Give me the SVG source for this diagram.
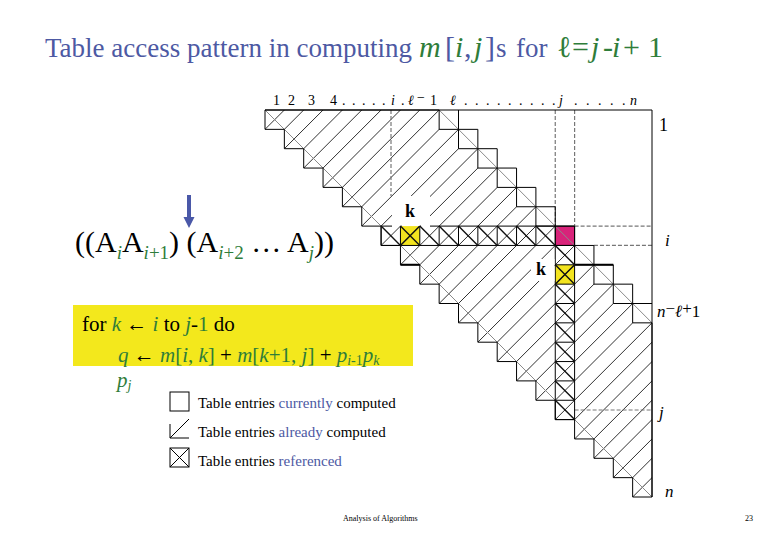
<svg xmlns="http://www.w3.org/2000/svg" width="780" height="540" viewBox="0 0 780 540">
<style>
text{font-family:"Liberation Serif","DejaVu Serif",serif;fill:#000}
.bl{fill:#4d59a3}
.gr{fill:#2f7d3a}
.it{font-style:italic}
.ln{fill:none;stroke:#000;stroke-width:1}
.x{fill:none;stroke:#111;stroke-width:1.4}
.h{fill:none;stroke:#1a1a1a;stroke-width:0.9}
.gy{fill:none;stroke:#8a8a8a;stroke-width:1}
.ds{fill:none;stroke:#777;stroke-width:1.2;stroke-dasharray:4 2}
</style>
<defs>
<clipPath id="hatchClip">
<path d="M265,110 H439.15 V129.35 H458.5 V148.7 H477.85 V168.05 H497.2 V187.4 H516.55 V206.75 H535.9 V226.1 H555.25 V245.45 H574.6 V264.8 H593.95 V284.15 H613.3 V303.5 H632.65 V322.85 H652 V497 H632.65 V477.65 H613.3 V458.3 H593.95 V438.95 H574.6 V419.6 H555.25 V400.25 H535.9 V380.9 H516.55 V361.55 H497.2 V342.2 H477.85 V322.85 H458.5 V303.5 H439.15 V284.15 H419.8 V264.8 H400.45 V245.45 H381.1 V226.1 H361.75 V206.75 H342.4 V187.4 H323.05 V168.05 H303.7 V148.7 H284.35 V129.35 H265 Z"/>
</clipPath>
</defs>
<rect width="780" height="540" fill="#fff"/>

<g id="title">
<text y="57" font-size="27" class="bl"><tspan x="45">Table access pattern in computing</tspan><tspan x="419" font-size="30" class="gr it">m</tspan><tspan x="445" font-size="30">[</tspan><tspan x="455" font-size="30" class="gr it">i</tspan><tspan x="464" font-size="30">,</tspan><tspan x="474" font-size="30" class="gr it">j</tspan><tspan x="485" font-size="30">]</tspan><tspan x="496">s</tspan><tspan x="516">for</tspan><tspan x="557" font-size="30" class="gr">ℓ</tspan><tspan x="572" font-size="30" class="gr">=</tspan><tspan x="591" font-size="30" class="gr it">j</tspan><tspan x="603" font-size="30" class="gr">-</tspan><tspan x="612" font-size="30" class="gr it">i</tspan><tspan x="623" font-size="30" class="gr">+</tspan><tspan x="648" font-size="30" class="gr">1</tspan></text>
</g>

<g id="top-axis" font-size="14">
<text y="105"><tspan x="273">1</tspan><tspan x="288">2</tspan><tspan x="308">3</tspan><tspan x="330">4</tspan><tspan x="342 352 362 372 382">.....</tspan><tspan x="391" class="it">i</tspan><tspan x="401">.</tspan><tspan x="408" class="it">ℓ</tspan><tspan x="417" dy="-3">−</tspan><tspan x="430" dy="3">1</tspan><tspan x="450" class="it">ℓ</tspan><tspan x="464 475 486 497 508 519 530 541 552">.........</tspan><tspan x="559" class="it">j</tspan><tspan x="574 586 598 610 622">.....</tspan><tspan x="630" class="it">n</tspan></text>
</g>

<g id="right-axis">
<text x="659" y="131" font-size="18">1</text>
<text x="665" y="246" font-size="17" class="it">i</text>
<text x="657" y="317" font-size="17"><tspan class="it">n</tspan><tspan dy="-3">−</tspan><tspan class="it" dy="3">ℓ</tspan><tspan dy="-3">+</tspan><tspan dy="3">1</tspan></text>
<text x="659" y="418" font-size="17" class="it">j</text>
<text x="665" y="497" font-size="17" class="it">n</text>
</g>

<g id="table">
<rect x="400.45" y="226.1" width="19.35" height="19.35" fill="#f3e41f"/>
<rect x="555.25" y="264.8" width="19.35" height="19.35" fill="#f3e41f"/>
<rect x="555.25" y="226.1" width="19.35" height="19.35" fill="#d8237a"/>
<g clip-path="url(#hatchClip)">
<path class="h" d="M294.35,100L-115.65,510M313.7,100L-96.3,510M333.05,100L-76.95,510M352.4,100L-57.6,510M371.75,100L-38.25,510M391.1,100L-18.9,510M410.45,100L0.45,510M429.8,100L19.8,510M449.15,100L39.15,510M468.5,100L58.5,510M487.85,100L77.85,510M507.2,100L97.2,510M526.55,100L116.55,510M545.9,100L135.9,510M565.25,100L155.25,510M584.6,100L174.6,510M603.95,100L193.95,510M623.3,100L213.3,510M642.65,100L232.65,510M662,100L252,510M681.35,100L271.35,510M700.7,100L290.7,510M720.05,100L310.05,510M739.4,100L329.4,510M758.75,100L348.75,510M778.1,100L368.1,510M797.45,100L387.45,510M816.8,100L406.8,510M836.15,100L426.15,510M855.5,100L445.5,510M874.85,100L464.85,510M894.2,100L484.2,510M913.55,100L503.55,510M932.9,100L522.9,510M952.25,100L542.25,510M971.6,100L561.6,510M990.95,100L580.95,510M1010.3,100L600.3,510M1029.65,100L619.65,510"/>
</g>
<path class="gy" d="M265,110 L652,497 M439.15,110 L652,322.85"/>
<path class="ds" d="M391,110 V196 M555.25,110 V226 M574.6,110 V226 M574.6,226.1 H652 M593.95,245.45 H652 M574.6,410 H652"/>
<path class="ln" d="M265,110 H652 V497"/>
<path class="ln" d="M265,110 H439.15 V129.35 H458.5 V148.7 H477.85 V168.05 H497.2 V187.4 H516.55 V206.75 H535.9 V226.1 H555.25 V245.45 H574.6 V264.8 H593.95 V284.15 H613.3 V303.5 H632.65 V322.85 H652 V497 H632.65 V477.65 H613.3 V458.3 H593.95 V438.95 H574.6 V419.6 H555.25 V400.25 H535.9 V380.9 H516.55 V361.55 H497.2 V342.2 H477.85 V322.85 H458.5 V303.5 H439.15 V284.15 H419.8 V264.8 H400.45 V245.45 H381.1 V226.1 H361.75 V206.75 H342.4 V187.4 H323.05 V168.05 H303.7 V148.7 H284.35 V129.35 H265 Z"/>
<path class="ln" d="M458.5,110 V129.35 H477.85 V148.7 H497.2 V168.05 H516.55 V187.4 H535.9 V206.75 H555.25 V226.1 H574.6 V245.45 H593.95 V264.8 H613.3 V284.15 H632.65 V303.5 H652"/>
<path fill="none" stroke="#000" stroke-width="2" d="M400.45,264.8 H419.8 M574.6,264.8 H613.3"/>
<path class="ln" d="M381.1,226.1 H392 M430,226.1 H555.25 M381.1,245.45 H555.25 M381.1,226.1 V245.45 M400.45,226.1 V245.45 M419.8,226.1 V245.45 M439.15,226.1 V245.45 M458.5,226.1 V245.45 M477.85,226.1 V245.45 M497.2,226.1 V245.45 M516.55,226.1 V245.45 M535.9,226.1 V245.45"/>
<path class="x" d="M381.1,226.1L400.45,245.45M400.45,226.1L419.8,245.45M419.8,226.1L439.15,245.45M439.15,226.1L458.5,245.45M458.5,226.1L477.85,245.45M477.85,226.1L497.2,245.45M497.2,226.1L516.55,245.45M516.55,226.1L535.9,245.45M535.9,226.1L555.25,245.45"/>
<path class="ln" d="M555.25,226.1 H574.6 V419.6 H555.25 V226.1 M555.25,245.45 H574.6 M555.25,264.8 H574.6 M555.25,284.15 H574.6 M555.25,303.5 H574.6 M555.25,322.85 H574.6 M555.25,342.2 H574.6 M555.25,361.55 H574.6 M555.25,380.9 H574.6 M555.25,400.25 H574.6"/>
<path class="x" d="M555.25,245.45L574.6,264.8M555.25,264.8L574.6,284.15M555.25,284.15L574.6,303.5M555.25,303.5L574.6,322.85M555.25,322.85L574.6,342.2M555.25,342.2L574.6,361.55M555.25,361.55L574.6,380.9M555.25,380.9L574.6,400.25M555.25,400.25L574.6,419.6"/>
<path class="x" d="M400.45,245.45L419.8,226.1M555.25,284.15L574.6,264.8"/>
<rect x="392" y="196" width="38" height="29.4" fill="#fff"/>
<text x="405" y="217" font-size="18" font-weight="bold">k</text>
<rect x="531" y="259" width="23.5" height="22" fill="#fff"/>
<text x="536" y="275" font-size="18" font-weight="bold">k</text>
</g>

<g id="expression">
<text x="75" y="252" font-size="30">((A<tspan dy="7" font-size="19" class="gr it">i</tspan><tspan dy="-7">A</tspan><tspan dy="7" font-size="19" class="gr"><tspan class="it">i</tspan>+1</tspan><tspan dy="-7">) (A</tspan><tspan dy="7" font-size="19" class="gr"><tspan class="it">i</tspan>+2</tspan><tspan dy="-7"> … A</tspan><tspan dy="7" font-size="19" class="gr it">j</tspan><tspan dy="-7">))</tspan></text>
<path fill="#4a58a8" d="M187,195 H191 V217 H194.5 L189,228 L183.5,217 H187 Z"/>
</g>

<g id="code">
<rect x="73" y="305" width="340" height="61" fill="#f3e81c"/>
<text x="82" y="331" font-size="21">for <tspan class="gr it">k</tspan> ← <tspan class="gr it">i</tspan> to <tspan class="gr it">j</tspan>-<tspan class="gr">1</tspan> do</text>
<text x="118" y="362" font-size="21" class="gr"><tspan class="it">q</tspan> <tspan fill="#000">←</tspan> <tspan class="it">m</tspan>[<tspan class="it">i</tspan>, <tspan class="it">k</tspan>] <tspan fill="#000">+</tspan> <tspan class="it">m</tspan>[<tspan class="it">k</tspan>+1, <tspan class="it">j</tspan>] <tspan fill="#000">+</tspan> <tspan class="it">p</tspan><tspan font-size="14" dy="3"><tspan class="it">i</tspan>-1</tspan><tspan class="it" dy="-3">p</tspan><tspan font-size="14" dy="3" class="it">k</tspan></text>
<text x="117" y="387" font-size="21" class="gr"><tspan class="it">p</tspan><tspan font-size="14" dy="3" class="it">j</tspan></text>
</g>

<g id="legend" font-size="15">
<rect x="170" y="392" width="19" height="19" class="ln"/>
<text x="198" y="408">Table entries <tspan class="bl">currently</tspan> computed</text>
<path class="ln" d="M170,424 V438 H189 M170,438 L189,419"/>
<text x="198" y="437">Table entries <tspan class="bl">already</tspan> computed</text>
<rect x="170" y="448" width="19" height="19" class="ln"/>
<path class="ln" d="M170,448 L189,467 M189,448 L170,467"/>
<text x="198" y="466">Table entries <tspan class="bl">referenced</tspan></text>
</g>

<g id="footer" font-size="8">
<text x="343" y="521">Analysis of Algorithms</text>
<text x="745" y="521">23</text>
</g>
</svg>
